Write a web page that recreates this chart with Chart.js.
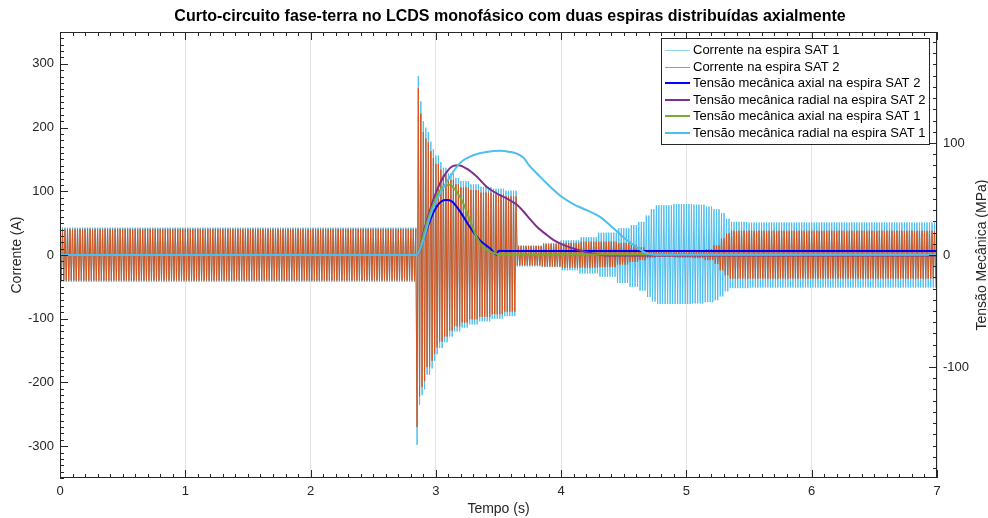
<!DOCTYPE html>
<html>
<head>
<meta charset="utf-8">
<script src="https://cdn.jsdelivr.net/npm/chart.js@4.4.1/dist/chart.umd.min.js"></script>
<style>
  html, body { margin: 0; padding: 0; background: #ffffff; }
  #wrap { width: 988px; height: 518px; }
</style>
</head>
<body>
<div id="wrap"><canvas id="chart" width="988" height="518"></canvas></div>
<script>
// ---- Coil currents (A) -------------------------------------------------
// Peak envelope of each current; every value holds from its knot time
// until the next knot. The waveform alternates positive/negative peaks
// once per half cycle of the supply.
const supplyFreq = 50; // Hz
const envTime   = [0.00, 2.85, 2.87, 2.885, 2.90, 2.915, 2.93, 2.955, 2.975, 3.00, 3.03, 3.06, 3.10, 3.15, 3.20, 3.27, 3.35, 3.45, 3.55,
                   3.65, 3.85, 4.00, 4.15, 4.30, 4.45, 4.55, 4.62, 4.68, 4.72, 4.76, 4.90, 5.05, 5.15, 5.22, 5.27, 5.31, 5.35, 5.50];
const sat1Upper = [43, 281, 241, 224, 210, 200, 193, 178, 166, 156, 146, 137, 128, 121, 116, 111, 107, 104, 101,
                   15, 19, 23, 28, 35, 42, 47, 52, 62, 72, 78, 80, 79, 76, 72, 66, 57, 52, 51];
const sat1Lower = [-42, -298, -235, -220, -211, -199, -188, -178, -166, -156, -146, -137, -128, -120, -114, -109, -104, -100, -96,
                   -18, -19, -24, -29, -34, -44, -50, -56, -66, -73, -77, -77, -76, -74, -71, -65, -57, -52, -51];
const sat2Upper = [41, 262, 222, 206, 193, 183, 177, 163, 152, 143, 134, 126, 118, 111, 106, 102, 98, 95, 92,
                   14, 17, 19, 21, 21, 19, 16, 12, 8, 6, 5, 5, 6, 9, 15, 26, 34, 38, 38];
const sat2Lower = [-40, -270, -222, -207, -198, -187, -176, -166, -155, -145, -136, -128, -119, -112, -106, -101, -97, -93, -89,
                   -16, -18, -20, -20, -19, -15, -11, -8, -5, -4, -3, -4, -5, -8, -14, -24, -32, -37, -37];

// ---- Mechanical stress (MPa) -------------------------------------------
const axialSat2Time  = [0, 2.847, 2.899, 2.953, 3.006, 3.046, 3.086, 3.126, 3.192, 3.272, 3.352, 3.432, 3.485, 3.50, 3.60, 7];
const axialSat2      = [0, 0, 13, 31, 43, 48, 49, 48, 39, 25, 13, 6, 0.5, 3.8, 3.5, 3.5];
const radialSat2Time = [0, 2.847, 2.913, 2.979, 3.033, 3.086, 3.139, 3.179, 3.246, 3.326, 3.405, 3.485, 3.565, 3.645, 3.698, 3.751,
                        3.804, 3.884, 3.937, 4.017, 4.15, 4.256, 4.39, 7];
const radialSat2     = [0, 0, 25, 49, 64, 74, 79.5, 80, 77, 70, 61, 55, 50.5, 45, 39, 32, 25.5, 18, 13.5, 9, 4, 1.2, -0.5, -0.5];
const axialSat1Time  = [0, 2.847, 2.88, 2.927, 3.006, 3.059, 3.112, 3.166, 3.219, 3.272, 3.326, 3.378, 3.458, 3.51, 7];
const axialSat1      = [0, 0, 9, 28, 52, 61, 62.5, 56.5, 46, 31, 16, 7, 2, 0.5, 0.5];
const radialSat1Time = [0, 2.847, 2.897, 2.953, 3.006, 3.086, 3.192, 3.298, 3.405, 3.511, 3.591, 3.645, 3.698, 3.751, 3.804, 3.884,
                        4.004, 4.097, 4.204, 4.31, 4.416, 4.523, 4.603, 4.682, 4.75, 7];
const radialSat1     = [0, 0, 12, 34, 49, 65, 82, 89, 92, 93, 92, 90.5, 87, 79, 73, 64, 52, 45.5, 40, 34, 24, 13.4, 7, 1.5, 0.3, 0.3];

// ---- Axis ticks -----------------------------------------------------------
const timeTicks    = [0, 1, 2, 3, 4, 5, 6, 7];
const currentTicks = [-300, -200, -100, 0, 100, 200, 300];
const stressTicks  = [-100, 0, 100];

const FONT = "'Liberation Sans', Arial, Helvetica, sans-serif";
const AXIS_COLOR = '#262626';
const TITLE = 'Curto-circuito fase-terra no LCDS monofásico com duas espiras distribuídas axialmente';

function currentWave(upper, lower) {
  const pts = [];
  const halfCycles = Math.round(timeTicks[timeTicks.length - 1] * 2 * supplyFreq);
  let j = 0;
  for (let k = 0; k <= halfCycles; k++) {
    const t = k / (2 * supplyFreq);
    while (j + 1 < envTime.length && envTime[j + 1] <= t + 1e-9) j++;
    pts.push({ x: t, y: k % 2 === 0 ? upper[j] : lower[j] });
  }
  return pts;
}

function pairs(ts, vs) {
  return ts.map((t, i) => ({ x: t, y: vs[i] }));
}

// Datasets listed top-most first (Chart.js paints index 0 last)
const datasets = [
  { label: 'Tensão mecânica radial na espira SAT 1', data: pairs(radialSat1Time, radialSat1), yAxisID: 'y1',
    borderColor: '#4DBEEE', borderWidth: 2, cubicInterpolationMode: 'monotone' },
  { label: 'Tensão mecânica axial na espira SAT 1', data: pairs(axialSat1Time, axialSat1), yAxisID: 'y1',
    borderColor: '#77AC30', borderWidth: 2, cubicInterpolationMode: 'monotone' },
  { label: 'Tensão mecânica radial na espira SAT 2', data: pairs(radialSat2Time, radialSat2), yAxisID: 'y1',
    borderColor: '#7E2F8E', borderWidth: 2, cubicInterpolationMode: 'monotone' },
  { label: 'Tensão mecânica axial na espira SAT 2', data: pairs(axialSat2Time, axialSat2), yAxisID: 'y1',
    borderColor: '#0000FF', borderWidth: 2, cubicInterpolationMode: 'monotone' },
  { label: 'Corrente na espira SAT 2', data: currentWave(sat2Upper, sat2Lower), yAxisID: 'y',
    borderColor: '#D95319', borderWidth: 1 },
  { label: 'Corrente na espira SAT 1', data: currentWave(sat1Upper, sat1Lower), yAxisID: 'y',
    borderColor: '#4DBEEE', borderWidth: 1 }
];

// Legend rows in plotting order, with the sample-line look of each row
const legendOrder  = [5, 4, 3, 2, 1, 0];
const legendSample = ['#8fd5f3', '#e3825c', null, null, null, null];

// Title, inward tick marks, plot frame, right-axis title and the legend box
const decorPlugin = {
  id: 'decor',
  afterDatasetsDraw(chart) {
    const ctx = chart.ctx;
    const a = chart.chartArea;
    const xs = chart.scales.x, yl = chart.scales.y, yr = chart.scales.y1;
    ctx.save();

    // title
    ctx.fillStyle = '#000000';
    ctx.font = 'bold 16px ' + FONT;
    ctx.textAlign = 'center';
    ctx.textBaseline = 'middle';
    ctx.fillText(TITLE, 510, 16.5);

    ctx.strokeStyle = AXIS_COLOR;
    ctx.lineWidth = 1;
    ctx.beginPath();
    // time axis ticks, bottom and top
    for (let i = 0; i <= 70; i++) {
      const v = i / 10;
      const px = Math.round(xs.getPixelForValue(v)) + 0.5;
      const len = (i % 10 === 0) ? 8 : 4;
      ctx.moveTo(px, a.bottom); ctx.lineTo(px, a.bottom - len);
      ctx.moveTo(px, a.top); ctx.lineTo(px, a.top + len);
    }
    // current axis ticks (left)
    for (let v = -350; v <= 350; v += 10) {
      const py = Math.round(yl.getPixelForValue(v)) + 0.5;
      const len = (v % 100 === 0) ? 8 : 4;
      ctx.moveTo(a.left, py); ctx.lineTo(a.left + len, py);
    }
    // stress axis ticks (right)
    for (let v = -190; v <= 190; v += 10) {
      const py = Math.round(yr.getPixelForValue(v)) + 0.5;
      const len = (v % 100 === 0) ? 8 : 4;
      ctx.moveTo(a.right, py); ctx.lineTo(a.right - len, py);
    }
    ctx.stroke();
    // frame
    ctx.strokeRect(Math.round(a.left) + 0.5, Math.round(a.top) + 0.5,
                   Math.round(a.right - a.left) - 1, Math.round(a.bottom - a.top) - 1);

    // right axis title
    ctx.fillStyle = AXIS_COLOR;
    ctx.font = '14px ' + FONT;
    ctx.textAlign = 'center';
    ctx.textBaseline = 'middle';
    ctx.translate(982, (a.top + a.bottom) / 2);
    ctx.rotate(-Math.PI / 2);
    ctx.fillText('Tensão Mecânica (MPa)', 0, 0);
    ctx.restore();

    // legend
    ctx.save();
    const bx = 661.5, by = 38.5, bw = 268, bh = 106;
    ctx.fillStyle = '#ffffff';
    ctx.fillRect(bx, by, bw, bh);
    ctx.strokeStyle = '#262626';
    ctx.lineWidth = 1;
    ctx.strokeRect(bx, by, bw, bh);
    ctx.font = '13px ' + FONT;
    ctx.textAlign = 'left';
    ctx.textBaseline = 'middle';
    legendOrder.forEach((di, row) => {
      const ds = chart.data.datasets[di];
      const cy = 50 + row * 16.5;
      ctx.strokeStyle = legendSample[row] || ds.borderColor;
      ctx.lineWidth = legendSample[row] ? 1 : 2;
      ctx.beginPath();
      if (legendSample[row]) {
        ctx.moveTo(665, Math.round(cy) + 0.5);
        ctx.lineTo(690, Math.round(cy) + 0.5);
      } else {
        ctx.moveTo(665, Math.round(cy));
        ctx.lineTo(690, Math.round(cy));
      }
      ctx.stroke();
      ctx.fillStyle = '#000000';
      ctx.fillText(ds.label, 693, cy + 0.5);
    });
    ctx.restore();
  }
};

new Chart(document.getElementById('chart'), {
  type: 'line',
  data: { datasets },
  options: {
    responsive: false,
    animation: false,
    devicePixelRatio: 1,
    layout: { padding: { top: 32, left: 0, right: 0, bottom: 0 } },
    elements: { point: { radius: 0 }, line: { tension: 0 } },
    plugins: {
      legend: { display: false },
      tooltip: { enabled: false },
      title: { display: false }
    },
    scales: {
      x: {
        type: 'linear', position: 'bottom', min: 0, max: 7,
        afterFit(s) { s.height = 40; },
        afterBuildTicks(s) { s.ticks = timeTicks.map(v => ({ value: v })); },
        ticks: { color: AXIS_COLOR, padding: 6, maxRotation: 0, font: { family: FONT, size: 13 } },
        grid: { display: true, drawTicks: false, color: '#e3e3e3', lineWidth: 1 },
        border: { display: false },
        title: { display: true, text: 'Tempo (s)', color: AXIS_COLOR, padding: { top: 0, bottom: 0 },
                 font: { family: FONT, size: 14, lineHeight: 1.2 } }
      },
      y: {
        type: 'linear', position: 'left', min: -350, max: 350,
        afterFit(s) { s.width = 60; },
        afterBuildTicks(s) { s.ticks = currentTicks.map(v => ({ value: v })); },
        ticks: { color: AXIS_COLOR, padding: 6, font: { family: FONT, size: 13 } },
        grid: { display: false, drawTicks: false },
        border: { display: false },
        title: { display: true, text: 'Corrente (A)', color: AXIS_COLOR, padding: { top: 8.6, bottom: 0 },
                 font: { family: FONT, size: 14, lineHeight: 1.2 } }
      },
      y1: {
        type: 'linear', position: 'right', min: -199, max: 199,
        afterFit(s) { s.width = 51; },
        afterBuildTicks(s) { s.ticks = stressTicks.map(v => ({ value: v })); },
        ticks: { color: AXIS_COLOR, padding: 6, font: { family: FONT, size: 13 } },
        grid: { display: false, drawTicks: false },
        border: { display: false }
      }
    }
  },
  plugins: [decorPlugin]
});
</script>
</body>
</html>
